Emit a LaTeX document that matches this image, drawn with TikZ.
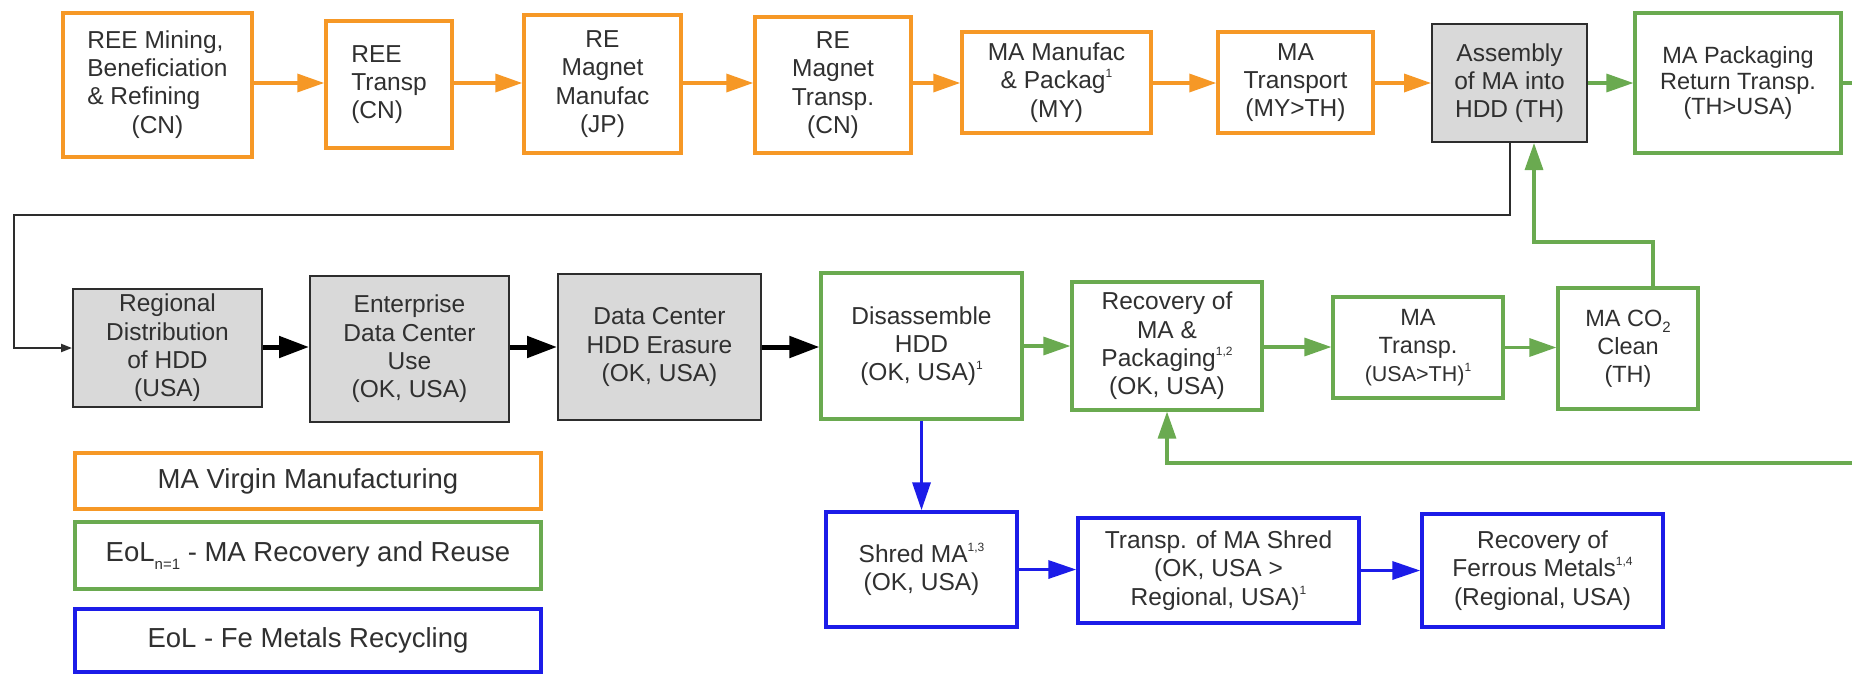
\documentclass[tikz,border=0pt]{standalone}
\usepackage{fontspec}
\setmainfont{Liberation Sans}
\usetikzlibrary{arrows.meta}

\definecolor{ornge}{RGB}{246,152,38}
\definecolor{grn}{RGB}{106,170,80}
\definecolor{blu}{RGB}{28,28,232}
\definecolor{hddfill}{RGB}{217,217,217}
\definecolor{hddline}{RGB}{45,45,45}
\definecolor{txt}{RGB}{48,48,48}

% small raised / lowered indices in running text
\newcommand\supx[1]{\raisebox{0.45em}{\fontsize{12}{12}\selectfont #1}}
\newcommand\subx[1]{\raisebox{-0.28em}{\fontsize{15}{15}\selectfont #1}}

\begin{document}
\begin{tikzpicture}[x=1pt,y=-1pt,
  base/.style={inner sep=0pt, align=center, text=txt,
               font=\fontsize{24.5}{28.3}\selectfont},
  sz/.style 2 args={minimum width=#1pt, minimum height=#2pt},
  obox/.style={base, draw=ornge, line width=3.5pt},
  gbox/.style={base, draw=grn, line width=3.2pt},
  bbox/.style={base, draw=blu, line width=3.5pt},
  hbox/.style={base, draw=hddline, fill=hddfill, line width=2pt},
  legend/.style={font=\fontsize{27.5}{30}\selectfont},
  oarr/.style={draw=ornge, line width=3.5pt, -{Triangle[length=27pt,width=18pt]}},
  garr/.style={draw=grn, line width=3.2pt, -{Triangle[length=27pt,width=18pt]}},
  barr/.style={draw=blu, line width=3.5pt, -{Triangle[length=28pt,width=18pt]}},
  karr/.style={draw=black, line width=5pt, -{Triangle[length=30pt,width=21pt]}},
  fline/.style={draw=hddline, line width=2pt, -{Triangle[length=11pt,width=8pt]}},
]
\clip (0,0) rectangle (1852,675);
\fill[white] (0,0) rectangle (1852,675);

% helper levels for the connectors
\coordinate (rowA) at (0,83);
\coordinate (rowB) at (0,347);
\coordinate (fA) at (14,215);
\coordinate (cA) at (1653,242);
\coordinate (cB) at (1534,242);
\coordinate (loopc) at (1880,463);

% ---- virgin manufacturing chain ----
\node[obox, sz={189}{144}] (B1) at (157.5,85)
  {\begin{tabular}{@{}l@{}}REE Mining,\\Beneficiation\\\& Refining\\\multicolumn{1}{@{}c@{}}{(CN)}\end{tabular}};
\node[obox, sz={126}{127}, align=left] (B2) at (389,84.5) {REE\\Transp\\(CN)};
\node[obox, sz={157}{138}] (B3) at (602.5,84) {RE\\Magnet\\Manufac\\(JP)};
\node[obox, sz={156}{136}] (B4) at (833,85) {RE\\Magnet\\Transp.\\(CN)};
\node[obox, sz={189}{101}] (B5) at (1056.5,82.5) {MA Manufac\\\& Packag\supx{1}\\(MY)};
\node[obox, sz={155}{101}] (B6) at (1295.5,82.5) {MA\\Transport\\(MY>TH)};
\node[hbox, sz={155}{118}] (B7) at (1509.5,83) {Assembly\\of MA into\\HDD (TH)};
\node[gbox, sz={206}{140}, font=\fontsize{23.5}{25.5}\selectfont] (B8) at (1738,83)
  {MA Packaging\\Return Transp.\\(TH>USA)};

% ---- use phase and recovery ----
\node[hbox, sz={189}{118}] (G1) at (167.5,348) {Regional\\Distribution\\of HDD\\(USA)};
\node[hbox, sz={199}{146}] (G2) at (409.5,349) {Enterprise\\Data Center\\Use\\(OK, USA)};
\node[hbox, sz={203}{146}] (G3) at (659.5,347) {Data Center\\HDD Erasure\\(OK, USA)};
\node[gbox, sz={201}{146}] (D1) at (921.5,346) {Disassemble\\HDD\\(OK, USA)\supx{1}};
\node[gbox, sz={190}{128}] (R1) at (1167,346) {Recovery of\\MA \&\\Packaging\supx{1,2}\\(OK, USA)};
\node[gbox, sz={170}{101}, font=\fontsize{23.5}{28}\selectfont] (T1) at (1418,347.5)
  {MA\\Transp.\\{\fontsize{21.5}{28}\selectfont(USA>TH)\supx{1}}};
\node[gbox, sz={140}{121}, font=\fontsize{23.5}{28}\selectfont] (C1) at (1628,348.5)
  {MA CO\subx{2}\\Clean\\(TH)};

% ---- ferrous recycling ----
\node[bbox, sz={191}{115}] (S1) at (921.5,569.5) {Shred MA\supx{1,3}\\(OK, USA)};
\node[bbox, sz={281}{105}] (S2) at (1218.5,570.5) {Transp. of MA Shred\\(OK, USA >\\Regional, USA)\supx{1}};
\node[bbox, sz={241}{113}] (S3) at (1542.5,570.5) {Recovery of\\Ferrous Metals\supx{1,4}\\(Regional, USA)};

% ---- legend ----
\node[obox, legend, sz={466}{56}] (L1) at (308,481) {MA Virgin Manufacturing};
\node[gbox, legend, sz={466}{67}] (L2) at (308,555.5) {EoL\subx{n=1} - MA Recovery and Reuse};
\node[bbox, legend, sz={466}{63}] (L3) at (308,640.5) {EoL - Fe Metals Recycling};

% ---- connectors ----
\draw[oarr] (B1.east |- rowA) -- (B2.west |- rowA);
\draw[oarr] (B2.east |- rowA) -- (B3.west |- rowA);
\draw[oarr] (B3.east |- rowA) -- (B4.west |- rowA);
\draw[oarr] (B4.east |- rowA) -- (B5.west |- rowA);
\draw[oarr] (B5.east |- rowA) -- (B6.west |- rowA);
\draw[oarr] (B6.east |- rowA) -- (B7.west |- rowA);
\draw[garr] (B7.east |- rowA) -- (B8.west |- rowA);

\draw[fline] (B7.south) -- (B7.south |- fA) -- (fA) -- (fA |- G1.west) -- (G1.west);

\draw[karr] (G1.east |- rowB) -- (G2.west |- rowB);
\draw[karr] (G2.east |- rowB) -- (G3.west |- rowB);
\draw[karr] (G3.east) -- (G3.east -| D1.west);

\draw[garr] (D1.east) -- (D1.east -| R1.west);
\draw[garr] (R1.east |- rowB) -- (T1.west |- rowB);
\draw[garr] (T1.east) -- (T1.east -| C1.west);
\draw[garr] (C1.north -| cA) -- (cA) -- (cB) -- (cB |- B7.south);
\draw[garr] (B8.east) -- (B8.east -| loopc) -- (loopc) -- (loopc -| R1.south) -- (R1.south);

\draw[barr] (D1.south) -- (S1.north);
\draw[barr] (S1.east) -- (S1.east -| S2.west);
\draw[barr] (S2.east) -- (S2.east -| S3.west);
\end{tikzpicture}
\end{document}
